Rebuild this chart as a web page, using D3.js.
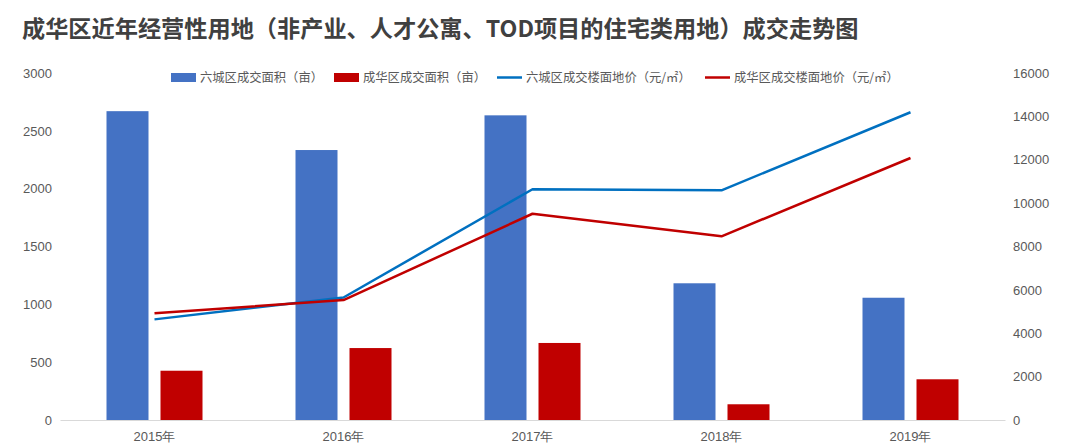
<!DOCTYPE html>
<html><head><meta charset="utf-8">
<script src="https://cdn.jsdelivr.net/npm/d3@7"></script>
<style>
html,body{margin:0;padding:0;background:#fff;}
svg{display:block;font-family:"Noto Sans CJK SC","Noto Sans",sans-serif;}
</style></head>
<body><svg id="c" width="1080" height="448"></svg>
<script>
const categories = ["2015年","2016年","2017年","2018年","2019年"];
const liuchengArea = [2670, 2334, 2634, 1182, 1057];
const chenghuaArea = [426, 622, 666, 136, 352];
const liuchengPrice = [4640, 5650, 10640, 10590, 14190];
const chenghuaPrice = [4920, 5530, 9510, 8470, 12080];
const leftTicks = [0, 500, 1000, 1500, 2000, 2500, 3000];
const rightTicks = [0, 2000, 4000, 6000, 8000, 10000, 12000, 14000, 16000];
const seriesNames = ["六城区成交面积（亩）","成华区成交面积（亩）","六城区成交楼面地价（元/㎡）","成华区成交楼面地价（元/㎡）"];
const title = "成华区近年经营性用地（非产业、人才公寓、TOD项目的住宅类用地）成交走势图";

const svg = d3.select("#c");
const L = 60, R = 1005, T = 73, B = 420;
const blue = "#4472C4", red = "#C00000", lblue = "#0070C0", lred = "#C00000";
const txt = "#595959";

const x = d3.scaleBand().domain(categories).range([L, R]);
const yL = d3.scaleLinear().domain([0, 3000]).range([B, T]);
const yR = d3.scaleLinear().domain([0, 16000]).range([B, T]);

svg.append("text").attr("x", 22).attr("y", 37)
  .attr("font-size", 23.2).attr("font-weight", "bold").attr("fill", "#404040")
  .text(title);

const gl = svg.append("g").attr("transform", `translate(${L},0)`)
  .call(d3.axisLeft(yL).tickValues(leftTicks).tickSize(0).tickPadding(8).tickFormat(d3.format("d")));
gl.select(".domain").remove();
gl.selectAll("text").attr("font-size", 13).attr("fill", txt).attr("font-family", "inherit");

const gr = svg.append("g").attr("transform", `translate(${R},0)`)
  .call(d3.axisRight(yR).tickValues(rightTicks).tickSize(0).tickPadding(8).tickFormat(d3.format("d")));
gr.select(".domain").remove();
gr.selectAll("text").attr("font-size", 13).attr("fill", txt).attr("font-family", "inherit");

const bw = 42, gap = 6;
svg.append("g").selectAll("rect").data(liuchengArea).join("rect")
  .attr("x", (d, i) => x(categories[i]) + x.bandwidth() / 2 - gap - bw)
  .attr("y", d => yL(d)).attr("width", bw).attr("height", d => B - yL(d)).attr("fill", blue);
svg.append("g").selectAll("rect").data(chenghuaArea).join("rect")
  .attr("x", (d, i) => x(categories[i]) + x.bandwidth() / 2 + gap)
  .attr("y", d => yL(d)).attr("width", bw).attr("height", d => B - yL(d)).attr("fill", red);

const gx = svg.append("g").attr("transform", `translate(0,${B})`)
  .call(d3.axisBottom(x).tickSize(0).tickPadding(12));
gx.select(".domain").attr("stroke", "#d9d9d9").attr("stroke-width", 1.2);
gx.selectAll("text").attr("font-size", 13).attr("fill", txt).attr("font-family", "inherit");

const line = d3.line().x((d, i) => x(categories[i]) + x.bandwidth() / 2);
svg.append("path").datum(liuchengPrice)
  .attr("d", line.y(d => yR(d))).attr("fill", "none").attr("stroke", lblue).attr("stroke-width", 2.5).attr("stroke-linejoin", "round");
svg.append("path").datum(chenghuaPrice)
  .attr("d", line.y(d => yR(d))).attr("fill", "none").attr("stroke", lred).attr("stroke-width", 2.5).attr("stroke-linejoin", "round");

const leg = [
  {x: 171, type: "rect", c: blue},
  {x: 334, type: "rect", c: red},
  {x: 497, type: "line", c: lblue},
  {x: 705, type: "line", c: lred}
];
const lg = svg.append("g");
leg.forEach((d, i) => {
  if (d.type === "rect") lg.append("rect").attr("x", d.x).attr("y", 73).attr("width", 25).attr("height", 9).attr("fill", d.c);
  else lg.append("line").attr("x1", d.x).attr("x2", d.x + 25).attr("y1", 77.5).attr("y2", 77.5).attr("stroke", d.c).attr("stroke-width", 2.5);
  lg.append("text").attr("x", d.x + 29).attr("y", 77.5).attr("dy", "0.35em")
    .attr("font-size", 12.3).attr("fill", txt).text(seriesNames[i]);
});
</script></body></html>
